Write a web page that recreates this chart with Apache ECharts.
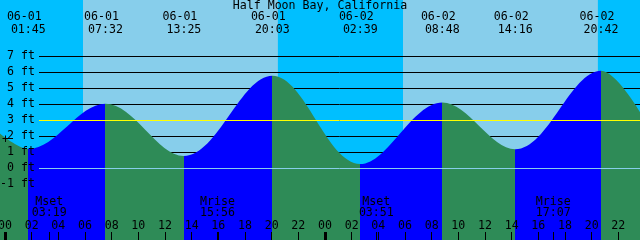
<!DOCTYPE html>
<html><head><meta charset="utf-8">
<script src="https://cdn.jsdelivr.net/npm/echarts@6/dist/echarts.min.js"></script>
<style>html,body{margin:0;padding:0;background:#00BFFF}#c{width:640px;height:240px}</style>
</head><body><div id="c"></div>
<script>
// ---------- data ----------
const chartTitle = 'Half Moon Bay, California';
const dayNames = ['06-01', '06-02'];
const tideDates = ['06-01', '06-01', '06-01', '06-01', '06-02', '06-02', '06-02', '06-02'];
const tideTimes = ['01:45', '07:32', '13:25', '20:03', '02:39', '08:48', '14:16', '20:42'];
const tideHeights = [1.19, 4.02, 0.75, 5.76, 0.25, 4.10, 1.17, 6.08];
const windowHours = [-0.375, 47.625];        // chart window, hours from 06-01 00:00
const windowEdgeHeights = [2.15, 3.5];       // tide height at window edges
const sunDates = ['06-01', '06-02'];
const sunriseTimes = ['05:51', '05:51'];
const sunsetTimes = ['20:28', '20:28'];
const moonDates = ['06-01', '06-01', '06-02', '06-02'];
const moonNames = ['Mset', 'Mrise', 'Mset', 'Mrise'];
const moonTimes = ['03:19', '15:56', '03:51', '17:07'];
const hourLabelValues = [0, 2, 4, 6, 8, 10, 12, 14, 16, 18, 20, 22, 24, 26, 28, 30, 32, 34, 36, 38, 40, 42, 44, 46];
const dayStartValues = [0, 24];
const heightRange = [-4.5, 10.5];
const ftRange = [-1, 7];
const markLevels = [0, 3];

// ---------- helpers ----------
const FONT = '"DejaVu Sans Mono", monospace';
const FS = 11.6;
const FONTSTR = FS + 'px ' + FONT;
const NIGHT = '#00BFFF', DAY = '#87CEEB', FLOOD = '#0000FF', EBB = '#2E8B57';
function toHour(date, hm) {
  const d = dayNames.indexOf(date);
  const p = hm.split(':');
  return d * 24 + (+p[0]) + (+p[1]) / 60;
}
function pad(n) { n = Math.round(n) % 24; return (n < 10 ? '0' : '') + n; }

const tideHours = tideTimes.map((t, i) => toHour(tideDates[i], t));
const tidePoints = [[windowHours[0], windowEdgeHeights[0]]]
  .concat(tideHours.map((h, i) => [h, tideHeights[i]]))
  .concat([[windowHours[1], windowEdgeHeights[1]]]);

const pieces = [];
pieces.push({ lt: tideHours[0], color: tideHeights[0] > windowEdgeHeights[0] ? FLOOD : EBB });
for (let i = 0; i < tideHours.length - 1; i++) {
  pieces.push({ gte: tideHours[i], lt: tideHours[i + 1], color: tideHeights[i + 1] > tideHeights[i] ? FLOOD : EBB });
}
const lastI = tideHours.length - 1;
pieces.push({ gte: tideHours[lastI], color: windowEdgeHeights[1] > tideHeights[lastI] ? FLOOD : EBB });

const dayIntervals = sunriseTimes.map((t, i) => [toHour(sunDates[i], t), toHour(sunDates[i], sunsetTimes[i])]);
const moonHours = moonTimes.map((t, i) => toHour(moonDates[i], t));
const tickValues = hourLabelValues.concat(moonHours).sort((a, b) => a - b);

const gridBase = { right: 0, containLabel: false, outerBoundsMode: 'none' };
const chart = echarts.init(document.getElementById('c'));
const option = {
  animation: false,
  backgroundColor: NIGHT,
  title: {
    text: chartTitle, left: 'center', top: 0, padding: 0,
    textStyle: { fontFamily: FONT, fontSize: FS, fontWeight: 'normal', color: '#000' }
  },
  grid: [
    Object.assign({ left: 0, top: 0, bottom: 0 }, gridBase),
    Object.assign({ left: 39, top: 56, bottom: 56 }, gridBase),
    Object.assign({ left: 39, top: 120, bottom: 72 }, gridBase)
  ],
  xAxis: [
    {
      gridIndex: 0, type: 'value', min: windowHours[0], max: windowHours[1], z: 10, position: 'bottom',
      axisLine: { show: false, onZero: false }, splitLine: { show: false },
      axisTick: { show: true, inside: true, length: 8, lineStyle: { color: '#000', width: 1 }, customValues: tickValues },
      axisLabel: { show: true, inside: true, margin: 8, customValues: hourLabelValues, formatter: v => pad(v),
        fontFamily: FONT, fontSize: FS, color: '#000' }
    },
    {
      gridIndex: 0, type: 'value', min: windowHours[0], max: windowHours[1], z: 11, position: 'bottom',
      axisLine: { show: false, onZero: false }, splitLine: { show: false }, axisLabel: { show: false },
      axisTick: { show: true, inside: true, length: 8, lineStyle: { color: '#000', width: 3 }, customValues: dayStartValues }
    },
    { gridIndex: 1, type: 'value', min: 0, max: 1, show: false, axisLine: { onZero: false } },
    { gridIndex: 2, type: 'value', min: 0, max: 1, show: false, axisLine: { onZero: false } }
  ],
  yAxis: [
    { gridIndex: 0, type: 'value', min: heightRange[0], max: heightRange[1], show: false, axisLine: { onZero: false } },
    {
      gridIndex: 1, type: 'value', min: ftRange[0], max: ftRange[1], interval: 1, position: 'left', z: 0,
      axisLine: { show: false, onZero: false }, axisTick: { show: false }, axisLabel: { show: false },
      splitLine: { show: true, lineStyle: { color: '#000', width: 1 } }
    },
    {
      gridIndex: 1, type: 'value', min: ftRange[0], max: ftRange[1], interval: 1, position: 'left', z: 10,
      axisLine: { show: false, onZero: false }, axisTick: { show: false }, splitLine: { show: false },
      axisLabel: { show: true, margin: 4, formatter: '{value} ft', fontFamily: FONT, fontSize: FS, color: '#000' }
    },
    {
      gridIndex: 2, type: 'value', min: markLevels[0], max: markLevels[1], interval: markLevels[1] - markLevels[0], z: 10,
      axisLine: { show: false, onZero: false }, axisTick: { show: false }, axisLabel: { show: false },
      splitLine: { show: true, lineStyle: { color: ['#87CEEB', '#FFFF00'], width: 1 } }
    }
  ],
  visualMap: { type: 'piecewise', show: false, dimension: 0, seriesIndex: 1, pieces: pieces },
  graphic: [
    { type: 'text', left: 2, top: 134, z: 20, style: { text: '+', font: FONTSTR, fill: '#000' } }
  ],
  series: [
    {
      type: 'custom', xAxisIndex: 0, yAxisIndex: 0, z: -1, silent: true, data: dayIntervals,
      renderItem: (p, api) => {
        const a = api.coord([api.value(0), heightRange[1]]);
        const b = api.coord([api.value(1), heightRange[0]]);
        return { type: 'rect', shape: { x: a[0], y: a[1], width: b[0] - a[0], height: b[1] - a[1] }, style: { fill: DAY } };
      }
    },
    {
      type: 'line', xAxisIndex: 0, yAxisIndex: 0, z: 2, data: tidePoints, smooth: 0.36,
      showSymbol: false, symbol: 'none', silent: true,
      lineStyle: { width: 0, opacity: 0 },
      areaStyle: { origin: 'start', opacity: 1 }
    },
    {
      type: 'custom', xAxisIndex: 0, yAxisIndex: 0, z: 12, silent: true,
      data: tideHours.map(h => [h, 0]),
      renderItem: (p, api) => {
        const x = api.coord([api.value(0), 0])[0];
        const i = p.dataIndex;
        return { type: 'group', children: [
          { type: 'text', x: x - 4, y: 17, style: { text: tideDates[i], font: FONTSTR, fill: '#000', align: 'center', verticalAlign: 'middle' } },
          { type: 'text', x: x, y: 30, style: { text: tideTimes[i], font: FONTSTR, fill: '#000', align: 'center', verticalAlign: 'middle' } }
        ] };
      }
    },
    {
      type: 'custom', xAxisIndex: 0, yAxisIndex: 0, z: 12, silent: true,
      data: moonHours.map(h => [h, 0]),
      renderItem: (p, api) => {
        const x = api.coord([api.value(0), 0])[0];
        const i = p.dataIndex;
        return { type: 'group', children: [
          { type: 'text', x: x, y: 202, style: { text: moonNames[i], font: FONTSTR, fill: '#000', align: 'center', verticalAlign: 'middle' } },
          { type: 'text', x: x, y: 213, style: { text: moonTimes[i], font: FONTSTR, fill: '#000', align: 'center', verticalAlign: 'middle' } }
        ] };
      }
    }
  ]
};
chart.setOption(option);
</script>
</body></html>
